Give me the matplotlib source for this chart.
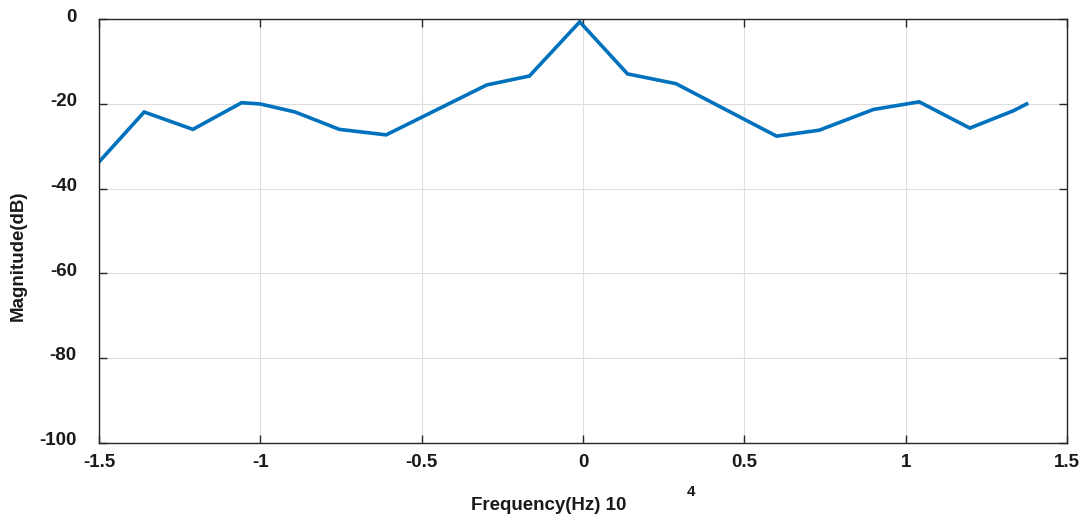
import matplotlib
matplotlib.use("Agg")
import matplotlib.pyplot as plt
from matplotlib.transforms import ScaledTranslation

freq = [-1.5, -1.36, -1.209, -1.058, -1.0, -0.892, -0.755, -0.61, -0.298, -0.166,
        -0.01, 0.138, 0.288, 0.600, 0.732, 0.900, 1.042, 1.199, 1.334, 1.375]
mag = [-33.7, -21.9, -26.0, -19.7, -20.0, -21.9, -26.0, -27.3, -15.5, -13.4,
       -0.6, -12.9, -15.2, -27.6, -26.2, -21.3, -19.5, -25.7, -21.6, -20.0]
xticks = [-1.5, -1, -0.5, 0, 0.5, 1, 1.5]
xticklabels = ["-1.5", "-1", "-0.5", "0", "0.5", "1", "1.5"]
yticks = [-100, -80, -60, -40, -20, 0]
yticklabels = ["-100", "-80", "-60", "-40", "-20", "0"]

plt.rcParams['font.family'] = ['Liberation Sans', 'DejaVu Sans']
plt.rcParams['font.weight'] = 'bold'
fs = 13.5
tc = '#1a1a1a'

fig = plt.figure(figsize=(10.83, 5.2), dpi=100)
ax = fig.add_axes([0.0914, 0.1487, 0.9852 - 0.0914, 0.9629 - 0.1487])
ax.plot(freq, mag, color='#0072BD', linewidth=2.6, solid_joinstyle='miter')
ax.set_xlim(-1.5, 1.5)
ax.set_ylim(-100, 0)
ax.set_xticks(xticks)
ax.set_xticklabels(xticklabels, fontsize=fs, fontweight='bold', color=tc)
ax.set_yticks(yticks)
ax.set_yticklabels(yticklabels, fontsize=fs, fontweight='bold', color=tc)
ax.tick_params(axis='both', direction='in', length=6, width=1, colors='#262626',
               top=True, right=True)
ax.tick_params(axis='y', pad=16, labelcolor=tc)
ax.tick_params(axis='x', pad=8, labelcolor=tc)
off = ScaledTranslation(0, 4 / 100, fig.dpi_scale_trans)
for lab in ax.get_yticklabels():
    lab.set_transform(lab.get_transform() + off)
ax.grid(True, color='#dedede', linewidth=0.8)
for s in ax.spines.values():
    s.set_color('#262626')
    s.set_linewidth(1.0)
fig.text(18 / 1083, 1 - 256 / 520, 'Magnitude(dB)', ha='center', va='center',
         rotation=90, fontsize=fs, fontweight='bold', color=tc)
fig.text(549 / 1083, 1 - 505 / 520, 'Frequency(Hz) 10', ha='center', va='center',
         fontsize=fs, fontweight='bold', color=tc)
fig.text(691 / 1083, 1 - 492 / 520, '4', ha='center', va='center',
         fontsize=11, fontweight='bold', color=tc)
fig.savefig('out.png', dpi=100)
